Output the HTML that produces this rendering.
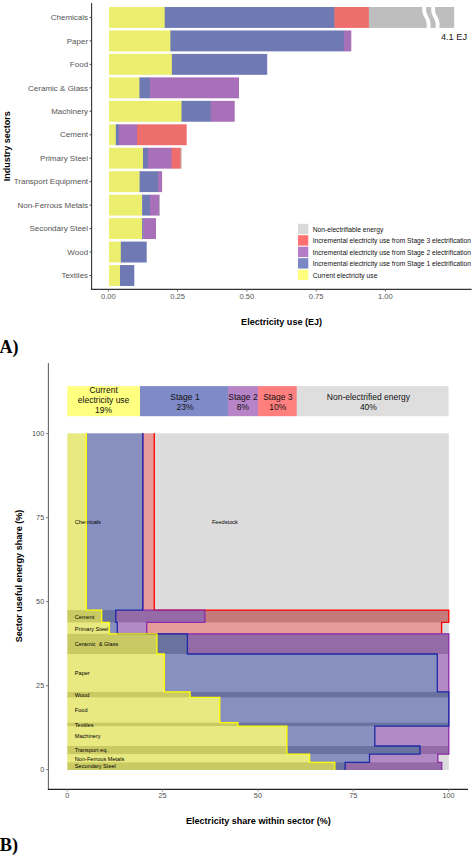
<!DOCTYPE html>
<html><head><meta charset="utf-8"><style>
html,body{margin:0;padding:0;background:#fff;width:475px;height:855px;overflow:hidden}
svg{display:block;font-family:"Liberation Sans", sans-serif}
</style></head><body>
<svg width="475" height="855" viewBox="0 0 475 855" font-family='"Liberation Sans", sans-serif'>
<rect x="109.00" y="7.00" width="56.20" height="20.9" fill="#ECEE6E"/>
<rect x="164.70" y="7.00" width="170.20" height="20.9" fill="#6F7AB5"/>
<rect x="334.40" y="7.00" width="34.90" height="20.9" fill="#EE6E6E"/>
<rect x="368.80" y="7.00" width="85.40" height="20.9" fill="#BEBEBE"/>
<text x="88.1" y="20.15" text-anchor="end" font-size="8.0" fill="#555">Chemicals</text>
<line x1="89.6" y1="17.45" x2="91.6" y2="17.45" stroke="#333" stroke-width="0.9"/>
<rect x="109.00" y="30.46" width="61.90" height="20.9" fill="#ECEE6E"/>
<rect x="170.40" y="30.46" width="173.90" height="20.9" fill="#6F7AB5"/>
<rect x="343.80" y="30.46" width="7.50" height="20.9" fill="#A870B8"/>
<text x="88.1" y="43.61" text-anchor="end" font-size="8.0" fill="#555">Paper</text>
<line x1="89.6" y1="40.91" x2="91.6" y2="40.91" stroke="#333" stroke-width="0.9"/>
<rect x="109.00" y="53.92" width="63.40" height="20.9" fill="#ECEE6E"/>
<rect x="171.90" y="53.92" width="95.30" height="20.9" fill="#6F7AB5"/>
<text x="88.1" y="67.07" text-anchor="end" font-size="8.0" fill="#555">Food</text>
<line x1="89.6" y1="64.37" x2="91.6" y2="64.37" stroke="#333" stroke-width="0.9"/>
<rect x="109.00" y="77.38" width="30.90" height="20.9" fill="#ECEE6E"/>
<rect x="139.40" y="77.38" width="11.00" height="20.9" fill="#6F7AB5"/>
<rect x="149.90" y="77.38" width="89.10" height="20.9" fill="#A870B8"/>
<text x="88.1" y="90.53" text-anchor="end" font-size="8.0" fill="#555">Ceramic &amp; Glass</text>
<line x1="89.6" y1="87.83" x2="91.6" y2="87.83" stroke="#333" stroke-width="0.9"/>
<rect x="109.00" y="100.84" width="73.00" height="20.9" fill="#ECEE6E"/>
<rect x="181.50" y="100.84" width="29.70" height="20.9" fill="#6F7AB5"/>
<rect x="210.70" y="100.84" width="24.00" height="20.9" fill="#A870B8"/>
<text x="88.1" y="113.99" text-anchor="end" font-size="8.0" fill="#555">Machinery</text>
<line x1="89.6" y1="111.29" x2="91.6" y2="111.29" stroke="#333" stroke-width="0.9"/>
<rect x="109.00" y="124.30" width="7.30" height="20.9" fill="#ECEE6E"/>
<rect x="115.80" y="124.30" width="3.60" height="20.9" fill="#6F7AB5"/>
<rect x="118.90" y="124.30" width="18.60" height="20.9" fill="#A870B8"/>
<rect x="137.00" y="124.30" width="49.70" height="20.9" fill="#EE6E6E"/>
<text x="88.1" y="137.45" text-anchor="end" font-size="8.0" fill="#555">Cement</text>
<line x1="89.6" y1="134.75" x2="91.6" y2="134.75" stroke="#333" stroke-width="0.9"/>
<rect x="109.00" y="147.76" width="34.50" height="20.9" fill="#ECEE6E"/>
<rect x="143.00" y="147.76" width="5.50" height="20.9" fill="#6F7AB5"/>
<rect x="148.00" y="147.76" width="24.10" height="20.9" fill="#A870B8"/>
<rect x="171.60" y="147.76" width="9.50" height="20.9" fill="#EE6E6E"/>
<rect x="180.60" y="147.76" width="1.00" height="20.9" fill="#BEBEBE"/>
<text x="88.1" y="160.91" text-anchor="end" font-size="8.0" fill="#555">Primary Steel</text>
<line x1="89.6" y1="158.21" x2="91.6" y2="158.21" stroke="#333" stroke-width="0.9"/>
<rect x="109.00" y="171.22" width="31.10" height="20.9" fill="#ECEE6E"/>
<rect x="139.60" y="171.22" width="19.00" height="20.9" fill="#6F7AB5"/>
<rect x="158.10" y="171.22" width="4.00" height="20.9" fill="#A870B8"/>
<text x="88.1" y="184.37" text-anchor="end" font-size="8.0" fill="#555">Transport Equipment</text>
<line x1="89.6" y1="181.67" x2="91.6" y2="181.67" stroke="#333" stroke-width="0.9"/>
<rect x="109.00" y="194.68" width="33.60" height="20.9" fill="#ECEE6E"/>
<rect x="142.10" y="194.68" width="8.30" height="20.9" fill="#6F7AB5"/>
<rect x="149.90" y="194.68" width="9.80" height="20.9" fill="#A870B8"/>
<rect x="159.20" y="194.68" width="0.80" height="20.9" fill="#BEBEBE"/>
<text x="88.1" y="207.83" text-anchor="end" font-size="8.0" fill="#555">Non-Ferrous Metals</text>
<line x1="89.6" y1="205.13" x2="91.6" y2="205.13" stroke="#333" stroke-width="0.9"/>
<rect x="109.00" y="218.14" width="33.60" height="20.9" fill="#ECEE6E"/>
<rect x="142.10" y="218.14" width="1.60" height="20.9" fill="#6F7AB5"/>
<rect x="143.20" y="218.14" width="12.80" height="20.9" fill="#A870B8"/>
<text x="88.1" y="231.29" text-anchor="end" font-size="8.0" fill="#555">Secondary Steel</text>
<line x1="89.6" y1="228.59" x2="91.6" y2="228.59" stroke="#333" stroke-width="0.9"/>
<rect x="109.00" y="241.60" width="12.30" height="20.9" fill="#ECEE6E"/>
<rect x="120.80" y="241.60" width="25.90" height="20.9" fill="#6F7AB5"/>
<text x="88.1" y="254.75" text-anchor="end" font-size="8.0" fill="#555">Wood</text>
<line x1="89.6" y1="252.05" x2="91.6" y2="252.05" stroke="#333" stroke-width="0.9"/>
<rect x="109.00" y="265.06" width="11.50" height="20.9" fill="#ECEE6E"/>
<rect x="120.00" y="265.06" width="14.30" height="20.9" fill="#6F7AB5"/>
<text x="88.1" y="278.21" text-anchor="end" font-size="8.0" fill="#555">Textiles</text>
<line x1="89.6" y1="275.51" x2="91.6" y2="275.51" stroke="#333" stroke-width="0.9"/>
<path d="M424.6,5 C423.6,9 423.8,13 426.4,17 C428.9,21 429.2,25 428.2,29" stroke="#fff" stroke-width="3.8" fill="none"/>
<path d="M433.6,5 C432.6,9 432.8,13 435.4,17 C437.9,21 438.2,25 437.2,29" stroke="#fff" stroke-width="3.8" fill="none"/>
<text x="440.9" y="40" font-size="9.7" textLength="26.2" lengthAdjust="spacingAndGlyphs" fill="#222">4.1 EJ</text>
<line x1="91.6" y1="3" x2="91.6" y2="289.9" stroke="#333" stroke-width="1.1"/>
<line x1="91.1" y1="289.4" x2="471.6" y2="289.4" stroke="#333" stroke-width="1.1"/>
<line x1="108.40" y1="289.4" x2="108.40" y2="291.6" stroke="#666" stroke-width="0.9"/>
<text x="108.40" y="298.7" text-anchor="middle" font-size="7.6" fill="#555">0.00</text>
<line x1="177.65" y1="289.4" x2="177.65" y2="291.6" stroke="#666" stroke-width="0.9"/>
<text x="177.65" y="298.7" text-anchor="middle" font-size="7.6" fill="#555">0.25</text>
<line x1="246.90" y1="289.4" x2="246.90" y2="291.6" stroke="#666" stroke-width="0.9"/>
<text x="246.90" y="298.7" text-anchor="middle" font-size="7.6" fill="#555">0.50</text>
<line x1="316.15" y1="289.4" x2="316.15" y2="291.6" stroke="#666" stroke-width="0.9"/>
<text x="316.15" y="298.7" text-anchor="middle" font-size="7.6" fill="#555">0.75</text>
<line x1="385.40" y1="289.4" x2="385.40" y2="291.6" stroke="#666" stroke-width="0.9"/>
<text x="385.40" y="298.7" text-anchor="middle" font-size="7.6" fill="#555">1.00</text>
<text x="281.6" y="325.3" text-anchor="middle" font-size="9.05" font-weight="bold" fill="#000">Electricity use (EJ)</text>
<text transform="translate(9.8,146.3) rotate(-90)" text-anchor="middle" font-size="9" font-weight="bold" fill="#000">Industry sectors</text>
<rect x="298" y="223.80" width="10.3" height="10.4" fill="#D9D9D9"/>
<text x="312.7" y="232.00" font-size="6.7" fill="#111">Non-electrifiable energy</text>
<rect x="298" y="235.25" width="10.3" height="10.4" fill="#FF7070"/>
<text x="312.7" y="243.45" font-size="6.7" fill="#111">Incremental electricity use from Stage 3 electrification</text>
<rect x="298" y="246.70" width="10.3" height="10.4" fill="#B47CC8"/>
<text x="312.7" y="254.90" font-size="6.7" fill="#111">Incremental electricity use from Stage 2 electrification</text>
<rect x="298" y="258.15" width="10.3" height="10.4" fill="#7B87C4"/>
<text x="312.7" y="266.35" font-size="6.7" fill="#111">Incremental electricity use from Stage 1 electrification</text>
<rect x="298" y="269.60" width="10.3" height="10.4" fill="#FFFF7F"/>
<text x="312.7" y="277.80" font-size="6.7" fill="#111">Current electricity use</text>
<text x="-0.5" y="352.7" font-family="Liberation Serif, serif" font-size="18" font-weight="bold" fill="#000">A)</text>
<rect x="67.3" y="386.1" width="73.20" height="30.10" fill="#FFFF80"/>
<rect x="140.0" y="386.1" width="88.30" height="30.10" fill="#7F8BC8"/>
<rect x="227.8" y="386.1" width="30.80" height="30.10" fill="#B784C8"/>
<rect x="258.1" y="386.1" width="39.10" height="30.10" fill="#FF7F7F"/>
<rect x="296.7" y="386.1" width="151.80" height="30.10" fill="#DEDEDE"/>
<text x="103.6" y="393.35" text-anchor="middle" font-size="8.5" fill="#111">Current</text>
<text x="103.6" y="403.45" text-anchor="middle" font-size="8.5" fill="#111">electricity use</text>
<text x="103.6" y="413.25" text-anchor="middle" font-size="8.5" fill="#111">19%</text>
<text x="185.0" y="400.05" text-anchor="middle" font-size="8.5" fill="#111">Stage 1</text>
<text x="185.0" y="409.85" text-anchor="middle" font-size="8.5" fill="#111">23%</text>
<text x="243.0" y="400.05" text-anchor="middle" font-size="8.5" fill="#111">Stage 2</text>
<text x="243.0" y="409.85" text-anchor="middle" font-size="8.5" fill="#111">8%</text>
<text x="277.8" y="400.05" text-anchor="middle" font-size="8.5" fill="#111">Stage 3</text>
<text x="277.8" y="409.85" text-anchor="middle" font-size="8.5" fill="#111">10%</text>
<text x="368.4" y="400.05" text-anchor="middle" font-size="8.5" fill="#111">Non-electrified energy</text>
<text x="368.4" y="409.85" text-anchor="middle" font-size="8.5" fill="#111">40%</text>
<rect x="67.30" y="433.30" width="19.60" height="177.40" fill="#E9E982"/>
<rect x="86.30" y="433.30" width="57.10" height="177.40" fill="#8890C0"/>
<rect x="142.80" y="433.30" width="12.10" height="177.40" fill="#E69A9A"/>
<rect x="154.30" y="433.30" width="294.50" height="177.40" fill="#DCDCDC"/>
<rect x="67.30" y="610.10" width="35.00" height="12.90" fill="#CACA64"/>
<rect x="101.70" y="610.10" width="14.70" height="12.90" fill="#6A72A0"/>
<rect x="115.80" y="610.10" width="89.60" height="12.90" fill="#946BA6"/>
<rect x="204.80" y="610.10" width="244.00" height="12.90" fill="#C47A78"/>
<rect x="67.30" y="622.40" width="42.70" height="12.00" fill="#E9E982"/>
<rect x="109.40" y="622.40" width="8.50" height="12.00" fill="#8890C0"/>
<rect x="117.30" y="622.40" width="30.00" height="12.00" fill="#B28AC4"/>
<rect x="146.70" y="622.40" width="295.50" height="12.00" fill="#E69A9A"/>
<rect x="441.60" y="622.40" width="7.20" height="12.00" fill="#DCDCDC"/>
<rect x="67.30" y="633.80" width="90.20" height="20.80" fill="#CACA64"/>
<rect x="156.90" y="633.80" width="31.10" height="20.80" fill="#6A72A0"/>
<rect x="187.40" y="633.80" width="261.40" height="20.80" fill="#946BA6"/>
<rect x="67.30" y="654.00" width="97.70" height="38.50" fill="#E9E982"/>
<rect x="164.40" y="654.00" width="273.50" height="38.50" fill="#8890C0"/>
<rect x="437.30" y="654.00" width="11.50" height="38.50" fill="#B28AC4"/>
<rect x="67.30" y="691.90" width="123.40" height="6.10" fill="#CACA64"/>
<rect x="190.10" y="691.90" width="258.70" height="6.10" fill="#6A72A0"/>
<rect x="67.30" y="697.40" width="153.10" height="25.90" fill="#E9E982"/>
<rect x="219.80" y="697.40" width="229.00" height="25.90" fill="#8890C0"/>
<rect x="67.30" y="722.70" width="171.20" height="4.10" fill="#CACA64"/>
<rect x="237.90" y="722.70" width="210.90" height="4.10" fill="#6A72A0"/>
<rect x="67.30" y="726.20" width="220.20" height="20.40" fill="#E9E982"/>
<rect x="286.90" y="726.20" width="88.50" height="20.40" fill="#8890C0"/>
<rect x="374.80" y="726.20" width="74.00" height="20.40" fill="#B28AC4"/>
<rect x="67.30" y="746.00" width="220.20" height="8.80" fill="#CACA64"/>
<rect x="286.90" y="746.00" width="133.70" height="8.80" fill="#6A72A0"/>
<rect x="420.00" y="746.00" width="28.80" height="8.80" fill="#946BA6"/>
<rect x="67.30" y="754.20" width="242.90" height="8.80" fill="#E9E982"/>
<rect x="309.60" y="754.20" width="60.50" height="8.80" fill="#8890C0"/>
<rect x="369.50" y="754.20" width="68.90" height="8.80" fill="#B28AC4"/>
<rect x="437.80" y="754.20" width="11.00" height="8.80" fill="#DCDCDC"/>
<rect x="67.30" y="762.40" width="268.10" height="7.60" fill="#CACA64"/>
<rect x="334.80" y="762.40" width="11.00" height="7.60" fill="#6A72A0"/>
<rect x="345.20" y="762.40" width="97.10" height="7.60" fill="#946BA6"/>
<rect x="441.70" y="762.40" width="7.10" height="7.60" fill="#DCDCDC"/>
<text x="74.8" y="523.50" font-size="5.6" fill="#000" xml:space="preserve">Chemicals</text>
<text x="74.8" y="618.85" font-size="5.6" fill="#000" xml:space="preserve">Cement</text>
<text x="74.8" y="630.70" font-size="5.6" fill="#000" xml:space="preserve">Primary Steel</text>
<text x="74.8" y="646.10" font-size="5.6" fill="#000" xml:space="preserve">Ceramic  &amp; Glass</text>
<text x="74.8" y="675.15" font-size="5.6" fill="#000" xml:space="preserve">Paper</text>
<text x="74.8" y="696.85" font-size="5.6" fill="#000" xml:space="preserve">Wood</text>
<text x="74.8" y="712.25" font-size="5.6" fill="#000" xml:space="preserve">Food</text>
<text x="74.8" y="726.65" font-size="5.6" fill="#000" xml:space="preserve">Textiles</text>
<text x="74.8" y="738.30" font-size="5.6" fill="#000" xml:space="preserve">Machinery</text>
<text x="74.8" y="752.30" font-size="5.6" fill="#000" xml:space="preserve">Transport eq.</text>
<text x="74.8" y="760.50" font-size="5.6" fill="#000" xml:space="preserve">Non-Ferrous Metals</text>
<text x="74.8" y="768.40" font-size="5.6" fill="#000" xml:space="preserve">Secondary Steel</text>
<text x="211.9" y="523.5" font-size="5.65" fill="#000">Feedstock</text>
<path d="M154.30,433.30 V610.10 H448.80 V622.40 H441.60 V633.80" stroke="#FF0000" stroke-width="1.3" fill="none"/>
<path d="M142.80,433.30 V610.10 H204.80 V622.40 H146.70 V633.80 H448.80 V654.00 H448.80 V691.90 H448.80 V697.40 H448.80 V722.70 H448.80 V726.20 H448.80 V746.00 H448.80 V754.20 H437.80 V762.40 H441.70 V770.00" stroke="#8A2AAA" stroke-width="1.3" fill="none"/>
<path d="M142.80,433.30 V610.10 H115.80 V622.40 H117.30 V633.80 H187.40 V654.00 H437.30 V691.90 H448.80 V697.40 H448.80 V722.70 H448.80 V726.20 H374.80 V746.00 H420.00 V754.20 H369.50 V762.40 H345.20 V770.00" stroke="#1C2AA6" stroke-width="1.3" fill="none"/>
<path d="M86.30,433.30 V610.10 H101.70 V622.40 H109.40 V633.80 H156.90 V654.00 H164.40 V691.90 H190.10 V697.40 H219.80 V722.70 H237.90 V726.20 H286.90 V746.00 H286.90 V754.20 H309.60 V762.40 H334.80 V770.00" stroke="#FFFF00" stroke-width="1.3" fill="none"/>
<line x1="48.4" y1="363" x2="48.4" y2="789.9" stroke="#666" stroke-width="1.1"/>
<line x1="47.9" y1="789.4" x2="468" y2="789.4" stroke="#222" stroke-width="1.1"/>
<line x1="67.30" y1="789.4" x2="67.30" y2="791.6" stroke="#888" stroke-width="0.9"/>
<text x="67.30" y="798.3" text-anchor="middle" font-size="7.25" fill="#4D4D4D">0</text>
<line x1="162.60" y1="789.4" x2="162.60" y2="791.6" stroke="#888" stroke-width="0.9"/>
<text x="162.60" y="798.3" text-anchor="middle" font-size="7.25" fill="#4D4D4D">25</text>
<line x1="257.90" y1="789.4" x2="257.90" y2="791.6" stroke="#888" stroke-width="0.9"/>
<text x="257.90" y="798.3" text-anchor="middle" font-size="7.25" fill="#4D4D4D">50</text>
<line x1="353.20" y1="789.4" x2="353.20" y2="791.6" stroke="#888" stroke-width="0.9"/>
<text x="353.20" y="798.3" text-anchor="middle" font-size="7.25" fill="#4D4D4D">75</text>
<line x1="448.50" y1="789.4" x2="448.50" y2="791.6" stroke="#888" stroke-width="0.9"/>
<text x="448.50" y="798.3" text-anchor="middle" font-size="7.25" fill="#4D4D4D">100</text>
<line x1="46.0" y1="769.60" x2="48.4" y2="769.60" stroke="#777" stroke-width="0.9"/>
<text x="44.2" y="772.20" text-anchor="end" font-size="7.25" fill="#4D4D4D">0</text>
<line x1="46.0" y1="685.60" x2="48.4" y2="685.60" stroke="#777" stroke-width="0.9"/>
<text x="44.2" y="688.20" text-anchor="end" font-size="7.25" fill="#4D4D4D">25</text>
<line x1="46.0" y1="601.60" x2="48.4" y2="601.60" stroke="#777" stroke-width="0.9"/>
<text x="44.2" y="604.20" text-anchor="end" font-size="7.25" fill="#4D4D4D">50</text>
<line x1="46.0" y1="517.60" x2="48.4" y2="517.60" stroke="#777" stroke-width="0.9"/>
<text x="44.2" y="520.20" text-anchor="end" font-size="7.25" fill="#4D4D4D">75</text>
<line x1="46.0" y1="433.60" x2="48.4" y2="433.60" stroke="#777" stroke-width="0.9"/>
<text x="44.2" y="436.20" text-anchor="end" font-size="7.25" fill="#4D4D4D">100</text>
<text x="258.4" y="823.8" text-anchor="middle" font-size="9.05" font-weight="bold" fill="#000">Electricity share within sector (%)</text>
<text transform="translate(21.6,576) rotate(-90)" text-anchor="middle" font-size="9.05" font-weight="bold" fill="#000">Sector useful energy share (%)</text>
<text x="-0.2" y="850.7" font-family="Liberation Serif, serif" font-size="18.3" font-weight="bold" fill="#000">B)</text>
</svg>
</body></html>
